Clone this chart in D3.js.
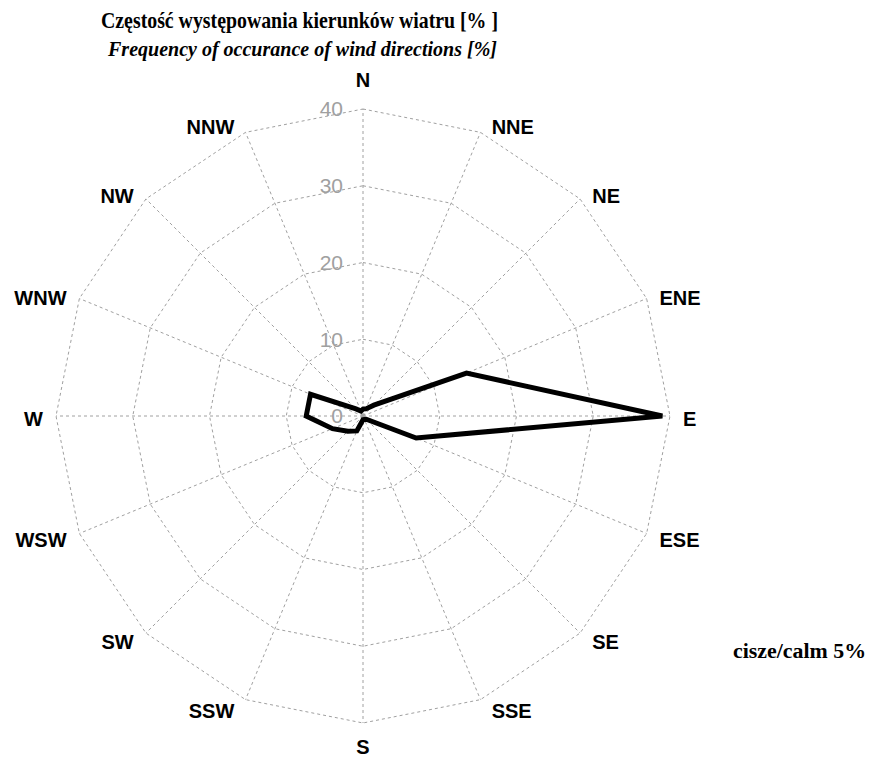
<!DOCTYPE html>
<html lang="en">
    <head>
        <meta charset="utf-8">
        <title>Wind rose</title>
        <script src="https://d3js.org/d3.v7.min.js"></script>
        <style>
            body { margin: 0; background: #fff; }
            .dir { font-family: "Liberation Sans", Arial, sans-serif; font-weight: bold; font-size: 20px; }
            .tick { font-family: "Liberation Sans", Arial, sans-serif; font-size: 21px; fill: #a0a0a0; }
            .title { font-family: "Liberation Serif", "Times New Roman", serif; font-weight: bold; }
        </style>
    </head>
    <body>
        <script type="text/javascript">
            const directions = ["N", "NNE", "NE", "ENE", "E", "ESE", "SE", "SSE",
                                "S", "SSW", "SW", "WSW", "W", "WNW", "NW", "NNW"];
            const frequency = [0.9, 1.0, 2.0, 14.6, 39.0, 7.5, 0.6, 0.5,
                               0.5, 2.1, 2.8, 4.3, 7.4, 7.4, 1.3, 0.7];
            const ticks = [0, 10, 20, 30, 40];
            const calm = "cisze/calm 5%";

            const GRID = '#a0a0a0';

            var width = 870,
                height = 760,
                cx = 363,
                cy = 416;

            var svg = d3.select("body").append("svg")
                .attr("width", width)
                .attr("height", height);

            var r = d3.scaleLinear().domain([0, 40]).range([0, 307]);
            var angle = d3.scaleLinear().domain([0, directions.length]).range([0, 2 * Math.PI]);

            function px(i, v) { return cx + r(v) * Math.sin(angle(i)); }
            function py(i, v) { return cy - r(v) * Math.cos(angle(i)); }

            var grid = svg.append("g").attr("id", "grid");

            // rings drawn as 16-gons
            grid.selectAll("polygon")
                .data(ticks.filter(d => d > 0))
                .enter().append("polygon")
                .attr("points", t => directions.map((d, i) => px(i, t) + "," + py(i, t)).join(" "))
                .attr("fill", "none")
                .attr("stroke", GRID)
                .attr("stroke-width", 1)
                .attr("stroke-dasharray", "3,3");

            // spokes
            grid.selectAll("line")
                .data(directions)
                .enter().append("line")
                .attr("x1", cx)
                .attr("y1", cy)
                .attr("x2", (d, i) => px(i, 40))
                .attr("y2", (d, i) => py(i, 40))
                .attr("stroke", GRID)
                .attr("stroke-width", 1)
                .attr("stroke-dasharray", "3,3");

            // tick labels
            svg.append("g").selectAll("text")
                .data(ticks)
                .enter().append("text")
                .attr("class", "tick")
                .attr("x", cx - 20)
                .attr("y", t => cy - r(t))
                .attr("dy", "0.35em")
                .attr("text-anchor", "end")
                .text(t => t);

            // data polygon
            var line = d3.lineRadial()
                .angle((d, i) => angle(i))
                .radius(d => r(d))
                .curve(d3.curveLinearClosed);

            svg.append("path")
                .attr("transform", "translate(" + cx + "," + cy + ")")
                .attr("d", line(frequency))
                .attr("fill", "none")
                .attr("stroke", "#000")
                .attr("stroke-width", 5)
                .attr("stroke-linejoin", "miter");

            // direction labels, pushed out sideways by half their width
            svg.append("g").selectAll("text")
                .data(directions)
                .enter().append("text")
                .attr("class", "dir")
                .attr("text-anchor", "middle")
                .attr("dy", "0.35em")
                .text(d => d)
                .each(function(d, i) {
                    var s = Math.sin(angle(i)), c = Math.cos(angle(i));
                    var w = this.getComputedTextLength();
                    var x = px(i, 40.4), y = py(i, 40.4);
                    if (Math.abs(s) < 0.01) {
                        y -= c * (c > 0 ? 26 : 21);
                    } else {
                        x += Math.sign(s) * (w / 2 + 10);
                        y += 3 - c * 6;
                    }
                    d3.select(this).attr("x", x).attr("y", y);
                });

            // titles
            svg.append("text")
                .attr("class", "title")
                .attr("x", 101)
                .attr("y", 28)
                .attr("textLength", 397)
                .attr("lengthAdjust", "spacingAndGlyphs")
                .style("font-size", "23px")
                .text("Częstość występowania kierunków wiatru [% ]");

            svg.append("text")
                .attr("class", "title")
                .attr("x", 108)
                .attr("y", 56)
                .attr("textLength", 389)
                .attr("lengthAdjust", "spacingAndGlyphs")
                .style("font-size", "22px")
                .style("font-style", "italic")
                .text("Frequency of occurance of wind directions [%]");

            svg.append("text")
                .attr("class", "title")
                .attr("x", 733)
                .attr("y", 658)
                .attr("textLength", 133)
                .attr("lengthAdjust", "spacingAndGlyphs")
                .style("font-size", "20px")
                .text(calm);
        </script>
    </body>
</html>
